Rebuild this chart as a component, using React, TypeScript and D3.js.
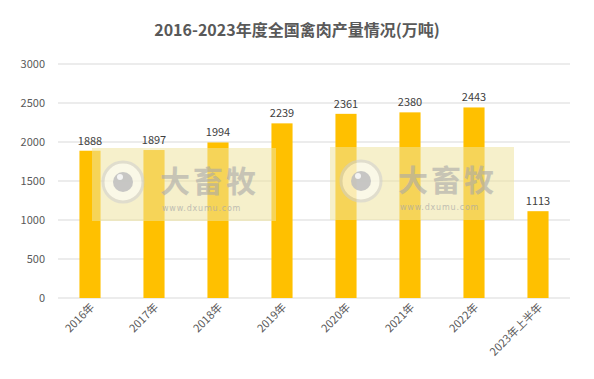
import React from "react";
import * as d3 from "d3";

const categories = ["2016年", "2017年", "2018年", "2019年", "2020年", "2021年", "2022年", "2023年上半年"];
const values = [1888, 1897, 1994, 2239, 2361, 2380, 2443, 1113];
const yTicks = [0, 500, 1000, 1500, 2000, 2500, 3000];
const title = "2016-2023年度全国禽肉产量情况(万吨)";

const W = 594, H = 379;
const left = 58, right = 570, top = 64, bottom = 298;
const FONT = "'Microsoft YaHei', 'Noto Sans CJK SC', 'Noto Sans', sans-serif";

function Watermark({ x, y }: { x: number; y: number }) {
  return (
    <g transform={`translate(${x},${y})`}>
      <rect x={0} y={0} width={184} height={73} fill="#EFE3A0" opacity={0.55} />
      <circle cx={31} cy={34} r={20} fill="#ffffff" opacity={0.55} stroke="#cfcfcf" strokeWidth={3} />
      <circle cx={31} cy={34} r={10} fill="#bdbdbd" opacity={0.85} />
      <circle cx={28} cy={29} r={3} fill="#ffffff" opacity={0.8} />
      <text x={68} y={44} fontFamily={FONT} fontSize={30} fontWeight="bold" fill="#a8a8a8" opacity={0.6} letterSpacing={3}>大畜牧</text>
      <text x={70} y={63} fontFamily="Verdana, 'DejaVu Sans', sans-serif" fontSize={8} fill="#a8a8a8" opacity={0.7} letterSpacing={0.8}>www.dxumu.com</text>
    </g>
  );
}

export default function App() {
  const x = d3.scaleBand<string>().domain(categories).range([left, right]).paddingInner(0.67).paddingOuter(0.335);
  const y = d3.scaleLinear().domain([0, 3000]).range([bottom, top]);
  return (
    <svg width={W} height={H} style={{ position: "absolute", left: 0, top: 0, background: "#fff" }} fontFamily={FONT}>
      <rect width={W} height={H} fill="#fff" />
      <text x={W / 2} y={36} textAnchor="middle" fontSize={16} fontWeight="bold" fill="#595959">{title}</text>
      {yTicks.map((t) => (
        <g key={t}>
          <line x1={left} x2={right} y1={y(t)} y2={y(t)} stroke="#d9d9d9" strokeWidth={1} />
          <text x={45} y={y(t) + 4} textAnchor="end" fontSize={11} fill="#595959">{t}</text>
        </g>
      ))}
      {categories.map((c, i) => {
        const bx = x(c)!;
        const bw = x.bandwidth();
        const cx = bx + bw / 2;
        return (
          <g key={c}>
            <rect x={bx} y={y(values[i])} width={bw} height={bottom - y(values[i])} fill="#FFC000" />
            <text x={cx} y={y(values[i]) - 6} textAnchor="middle" fontSize={11} fill="#404040">{values[i]}</text>
            <text transform={`translate(${cx + 5},${bottom + 10}) rotate(-45)`} textAnchor="end" fontSize={11} fill="#595959">{c}</text>
          </g>
        );
      })}
      <Watermark x={92} y={148} />
      <Watermark x={330} y={147} />
    </svg>
  );
}
